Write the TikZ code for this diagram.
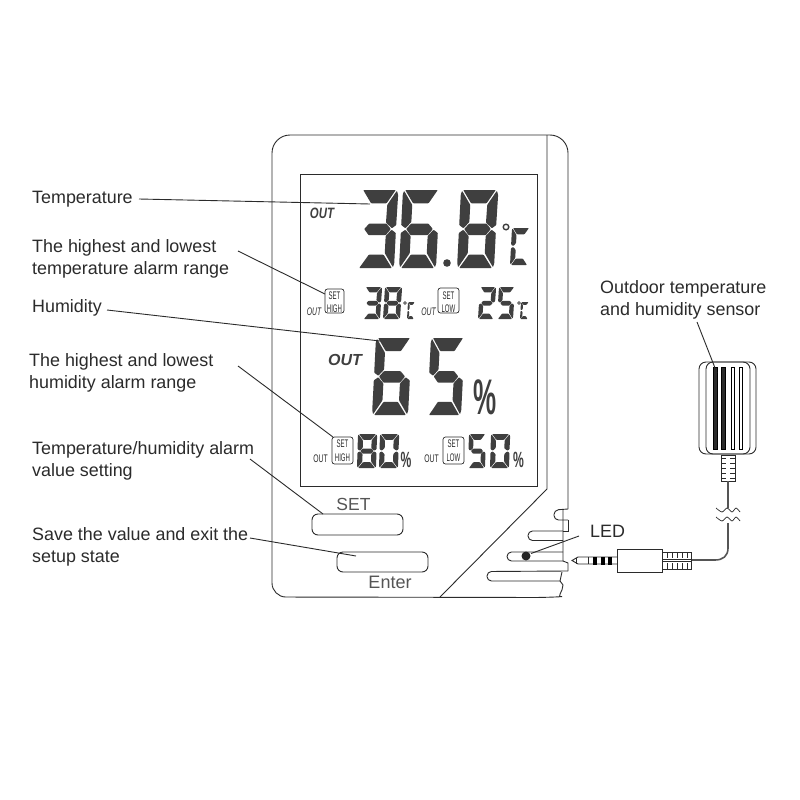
\documentclass[tikz,border=0pt]{standalone}
\usepackage{fontspec}
\setmainfont{Liberation Sans}
\definecolor{ink}{HTML}{2B2B2B}
\definecolor{seg}{HTML}{3F3F3F}
\definecolor{grey}{HTML}{555555}
\tikzset{
  lcdseg/.style={fill=seg,rounded corners=0.7pt},
  body/.style={draw=ink,line width=0.9pt},
  leader/.style={draw=ink,line width=0.9pt},
  lbl/.style={inner sep=0pt,anchor=west,align=left,text=ink,font=\fontsize{17.9}{22}\selectfont},
  smalltxt/.style={inner sep=0pt,text=ink,font=\fontsize{11}{11}\selectfont},
  minibox/.style={draw=ink,line width=0.7pt,rounded corners=2.5pt,fill=white},
}
\def\sega{\fill[lcdseg] (6,0)--(94,0)--(71,17)--(29,17)--cycle;}
\def\segb{\fill[lcdseg] (97,1)--(101,6)--(100,45)--(89,49)--(72,42)--(73,19)--cycle;}
\def\segf{\fill[lcdseg] (3,1)--(27,19)--(27,41)--(12,49)--(0,45)--(0,6)--cycle;}
\def\segg{\fill[lcdseg] (14,50)--(27,43)--(73,43)--(86,50)--(73,58)--(27,58)--cycle;}
\def\sege{\fill[lcdseg] (12,51)--(27,59)--(27,81)--(3,99)--(0,94)--(0,55)--cycle;}
\def\segc{\fill[lcdseg] (88,51)--(100,55)--(100,94)--(97,99)--(73,81)--(73,59)--cycle;}
\def\segd{\fill[lcdseg] (30,83)--(70,83)--(94,100)--(6,100)--cycle;}
\newcommand\lcddigit[6]{\begin{scope}[shift={(#1,#2)},x={(#3/100*1pt,0pt)},y={(-#5/100*1pt,-#4/100*1pt)}]
  \foreach\segname in {#6}{\csname seg\segname\endcsname}
\end{scope}}
\newcommand\narrowed[2]{\scalebox{#1}[1]{#2}}
\begin{document}
\begin{tikzpicture}[x=1pt,y=-1pt]
\useasboundingbox (0,0) rectangle (800,800);
\fill[white] (0,0) rectangle (800,800);

% body
\draw[body,rounded corners=18pt] (568,509) -- (568,135) -- (272,135) [rounded corners=14pt] -- (272,597) -- (548,597.5)
   [sharp corners] .. controls (556,597) and (563,592) .. (563,585) -- (560,581);
\draw[body] (547,135) -- (547,489) -- (440,597);
\draw[body] (300,174) rectangle (537,486);
% right notches
\draw[body,rounded corners=4.5pt] (568,509) -- (554,510) -- (554,520) -- (568,520);
\draw[body] (568,520) -- (568,531) -- (563,531);
\draw[body] (563,510) -- (563,561) -- (568,563) -- (568,571);
\draw[body,rounded corners=4.5pt] (563,531) -- (528,531) -- (528,540.5) -- (563,540.5);
\draw[body,rounded corners=4.5pt] (563,552) -- (507,552) -- (507,561) -- (563,561);
\draw[body,rounded corners=4.5pt] (568,571) -- (487,571.5) -- (487,581) -- (560,581);
\draw[body] (560,581) -- (562,572);
\fill[black!85] (526,556) circle (4.5);

% buttons
\node[draw=ink,line width=0.9pt,rounded corners=6pt,minimum width=91pt,minimum height=21pt,inner sep=0pt] (setbtn) at (357.5,524.5) {};
\node[draw=ink,line width=0.9pt,rounded corners=6pt,minimum width=91pt,minimum height=20pt,inner sep=0pt] (enterbtn) at (382.5,562) {};
\node[inner sep=0pt,text=grey,font=\fontsize{17.5}{17}\selectfont] (settxt) at (353.5,504.5) {SET};
\node[inner sep=0pt,text=grey,font=\fontsize{18}{17}\selectfont] (entertxt) at (390,582) {Enter};

% big temperature
\lcddigit{361}{190}{37}{78}{4}{a,b,g,c,d}
\lcddigit{403}{190}{37}{78}{4}{a,f,g,e,c,d}
\lcddigit{461}{190}{37}{78}{4}{a,b,c,d,e,f,g}
\fill[seg] (447,263) circle (3.8);
\draw[seg,line width=1.4pt] (506,227) circle (2.8);
\lcddigit{512}{228}{18}{37}{2}{a,f,e,d}
\node[inner sep=0pt,text=seg,font=\bfseries\itshape\fontsize{15}{15}\selectfont] (out1) at (322,213.5) {\narrowed{.76}{OUT}};

% temperature alarm row
\lcddigit{365}{287}{17}{32}{2}{a,b,g,c,d}
\lcddigit{385}{287}{17}{32}{2}{a,b,c,d,e,f,g}
\draw[seg,line width=0.7pt] (405,303) circle (1.4);
\lcddigit{408}{302}{7}{17}{1}{a,f,e,d}
\node[smalltxt] (out2) at (314,311.5) {\itshape\narrowed{.62}{OUT}};
\node[minibox,minimum width=19pt,minimum height=24pt,inner sep=0pt] (bx1) at (334.5,301) {};
\node[smalltxt] (s1) at (334.5,296) {\narrowed{.55}{SET}};
\node[smalltxt] (h1) at (334.5,308.5) {\narrowed{.55}{HIGH}};
\node[smalltxt] (out3) at (428.5,311.5) {\itshape\narrowed{.62}{OUT}};
\node[minibox,minimum width=21pt,minimum height=25pt,inner sep=0pt] (bx2) at (448.5,300.5) {};
\node[smalltxt] (s2) at (448.5,296) {\narrowed{.55}{SET}};
\node[smalltxt] (l1) at (448.5,308.5) {\narrowed{.55}{LOW}};
\lcddigit{480}{287}{16}{32}{2}{a,b,g,e,d}
\lcddigit{499}{287}{16}{32}{2}{a,f,g,c,d}
\draw[seg,line width=0.7pt] (519,303) circle (1.4);
\lcddigit{521}{302}{8}{17}{1}{a,f,e,d}

% big humidity
\lcddigit{376}{338}{36}{77}{4}{a,f,g,e,c,d}
\lcddigit{431}{338}{34}{77}{4}{a,f,g,c,d}
\node[inner sep=0pt,text=seg,font=\bfseries\fontsize{50}{50}\selectfont] (pct1) at (485.5,397) {\narrowed{.52}{\%}};
\node[inner sep=0pt,text=seg,font=\bfseries\itshape\fontsize{16}{16}\selectfont] (out4) at (345,359.5) {OUT};

% humidity alarm row
\lcddigit{358}{434}{19}{34}{1}{a,b,c,d,e,f,g}
\lcddigit{380}{434}{19}{34}{1}{a,b,c,d,e,f}
\node[inner sep=0pt,text=seg,font=\bfseries\fontsize{22}{22}\selectfont] (pct2) at (406,460) {\narrowed{.55}{\%}};
\node[smalltxt] (out5) at (320.5,458.5) {\narrowed{.62}{OUT}};
\node[minibox,minimum width=21pt,minimum height=27pt,inner sep=0pt] (bx3) at (342.5,450.5) {};
\node[smalltxt] (s3) at (342.5,444) {\narrowed{.55}{SET}};
\node[smalltxt] (h3) at (342.5,457.5) {\narrowed{.55}{HIGH}};
\node[smalltxt] (out6) at (431.5,458.5) {\narrowed{.62}{OUT}};
\node[minibox,minimum width=21pt,minimum height=27pt,inner sep=0pt] (bx4) at (453.5,450.5) {};
\node[smalltxt] (s4) at (453.5,444) {\narrowed{.55}{SET}};
\node[smalltxt] (l4) at (453.5,457.5) {\narrowed{.55}{LOW}};
\lcddigit{469}{434}{17}{34}{1}{a,f,g,c,d}
\lcddigit{491}{434}{19}{34}{1}{a,b,c,d,e,f}
\node[inner sep=0pt,text=seg,font=\bfseries\fontsize{22}{22}\selectfont] (pct3) at (518.5,460) {\narrowed{.55}{\%}};

% labels
\node[lbl] (t1) at (32,199.5) {Temperature};
\node[lbl] (t2) at (32,259) {The highest and lowest\\temperature alarm range};
\node[lbl] (t3) at (32,308) {Humidity};
\node[lbl] (t4) at (29,373) {The highest and lowest\\humidity alarm range};
\node[lbl] (t5) at (32,461) {Temperature/humidity alarm\\value setting};
\node[lbl] (t6) at (32,547) {Save the value and exit the\\setup state};
\node[lbl] (t7) at (590,531) {LED};
\node[lbl] (t8) at (600,299.5) {Outdoor temperature\\and humidity sensor};

% leaders
\coordinate (a1) at (139,199);   \coordinate (b1) at (370,204);
\coordinate (a2) at (238,251);   \coordinate (b2) at (325,294);
\coordinate (a3) at (107,310);   \coordinate (b3) at (380,341);
\coordinate (a4) at (238,366);   \coordinate (b4) at (333,437);
\coordinate (a5) at (250,459);   \coordinate (b5) at (323,514);
\coordinate (a6) at (250,538);   \coordinate (b6) at (356,556);
\coordinate (a7) at (579,536);   \coordinate (b7) at (531,553.5);
\coordinate (a8) at (697,322);   \coordinate (b8) at (717,373);
\foreach \i in {1,...,7}{\draw[leader] (a\i) -- (b\i);}

% sensor
\draw[body,rounded corners=7pt] (699,362) rectangle (756,454);
\draw[body,rounded corners=7pt] (706,362) rectangle (750,454);
\draw[draw=black,line width=0.9pt,fill=ink] (713.5,367) rectangle (717,449);
\draw[draw=black,line width=0.9pt,fill=ink] (721.5,367) rectangle (725,449);
\draw[draw=black,line width=1pt,fill=white] (731,367) rectangle (734.5,449);
\draw[draw=black,line width=1pt,fill=white] (739,367) rectangle (742.5,449);
\draw[leader] (a8) -- (b8);
% sensor strain relief
\draw[body,fill=white] (721,455) rectangle (735,481);
\foreach \yy in {458,463,468,473,478}{
  \draw[draw=ink,line width=0.9pt] (721,\yy) -- (726,\yy);
  \draw[draw=ink,line width=0.9pt] (730,\yy) -- (735,\yy);
}
% cable
\coordinate (cabletop) at (728,481);
\coordinate (cablebreak) at (728,508);
\coordinate (cablelow) at (728,523);
\coordinate (cableend) at (691,560);
\draw[draw=ink!80,line width=1.6pt] (cabletop) -- (cablebreak);
\draw[draw=ink!80,line width=1.6pt] (cablelow) -- (728,548) .. controls (728,556) and (723,560) .. (715,560) -- (cableend);
\draw[draw=ink,line width=0.7pt] plot[smooth] coordinates {(716,508) (722,512) (727,508) (732,512) (736,508) (740,512)};
\draw[draw=ink,line width=0.7pt] plot[smooth] coordinates {(716,517) (722,521) (727,517) (732,521) (736,517) (740,521)};
% plug strain relief
\draw[body,fill=white] (662,552) rectangle (691,569);
\foreach \xx in {667,672,677,682,687}{
  \draw[draw=ink,line width=0.8pt] (\xx,552) -- (\xx,558);
  \draw[draw=ink,line width=0.8pt] (\xx,563) -- (\xx,569);
}
\draw[body] (662,559) -- (691,559);
\draw[body] (662,561.5) -- (691,561.5);
% plug body
\node[draw=ink,line width=0.9pt,fill=white,minimum width=45pt,minimum height=23pt,inner sep=0pt] (plug) at (639.5,560.5) {};
% plug pin
\draw[body] (617,557) -- (578,557) -- (572,560.5) -- (578,564) -- (617,564);
\draw[draw=ink,line width=0.7pt] (576,557.5) -- (576,563.5);
\draw[draw=ink,line width=0.7pt] (588,557) -- (588,564);
\fill[black] (593,556.5) rectangle (597,564.5);
\fill[black] (601,556.5) rectangle (605,564.5);
\fill[black] (608,556.5) rectangle (612,564.5);
\end{tikzpicture}
\end{document}
